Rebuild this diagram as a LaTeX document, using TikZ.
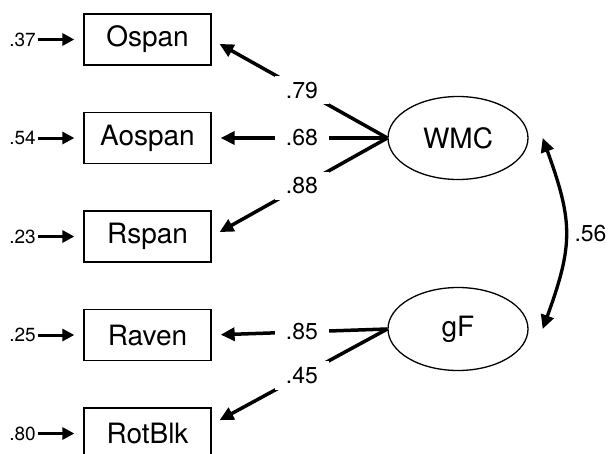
\documentclass[tikz,border=0pt]{standalone}
\usepackage{fontspec}
\setmainfont{TeX Gyre Heros}
\usetikzlibrary{arrows.meta, shapes}
\tikzset{
		observed/.style={draw, line width=1.3pt, minimum width=127pt, minimum height=51pt, font=\fontsize{28}{32}\selectfont},
		latent/.style={draw, ellipse, line width=1.3pt, minimum width=140pt, minimum height=83pt, inner sep=0pt, font=\fontsize{28}{32}\selectfont},
		residual/.style={inner sep=2pt, font=\fontsize{19}{21}\selectfont},
		weight/.style={fill=white, inner xsep=11pt, inner ysep=6pt, pos=0.486, font=\fontsize{23}{25}\selectfont},
		loading/.style={->, line width=3.5pt, shorten >=9pt},
		disturb/.style={-{Triangle[length=12pt,width=12pt]}, line width=3pt, shorten >=9pt}
	}

\begin{document}
\begin{tikzpicture}[x=1pt, y=1pt, >={Triangle[length=14pt,width=13pt]}, node distance=98.5pt]
				\useasboundingbox (0,0) rectangle (608,-453);
				\node[observed] (ospan)  at (147.5,-39.5)   {Ospan};
				\node[observed] (aospan) [below of = ospan]  {Aospan};
				\node[observed] (rspan)  [below of = aospan] {Rspan};
				\node[observed] (raven)  [below of = rspan]  {Raven};
				\node[observed] (rotblk) [below of = raven]  {RotBlk};
				\node[latent]   (wmc)    [right of = aospan, node distance=310.5pt] {WMC};
				\node[latent]   (gf)     [below of = wmc, node distance=191pt]      {gF};
				\node[residual] (e1) [left of = ospan,  node distance=125pt] {.37};
				\node[residual] (e2) [left of = aospan, node distance=125pt] {.54};
				\node[residual] (e3) [left of = rspan,  node distance=125pt] {.23};
				\node[residual] (e4) [left of = raven,  node distance=125pt] {.25};
				\node[residual] (e5) [left of = rotblk, node distance=125pt] {.80};
				\path (e1) edge[disturb] (ospan);
				\path (e2) edge[disturb] (aospan);
				\path (e3) edge[disturb] (rspan);
				\path (e4) edge[disturb] (raven);
				\path (e5) edge[disturb] (rotblk);
				\path (wmc.west) edge[loading] node[weight] {.79} (ospan.east);
				\path (wmc.west) edge[loading] node[weight] {.68} (aospan.east);
				\path (wmc.west) edge[loading] node[weight] {.88} (rspan.east);
				\path (gf.west) edge[loading] node[weight] {.85} (raven.east);
				\path (gf.west) edge[loading] node[weight] {.45} (rotblk.8);
				\draw[<->, line width=3.3pt] ([xshift=14pt]wmc.east) to[out=-70, in=70, looseness=1.2]
					node[right=4pt, font=\fontsize{23}{25}\selectfont] {.56} ([xshift=14pt]gf.east);
			\end{tikzpicture}
\end{document}
